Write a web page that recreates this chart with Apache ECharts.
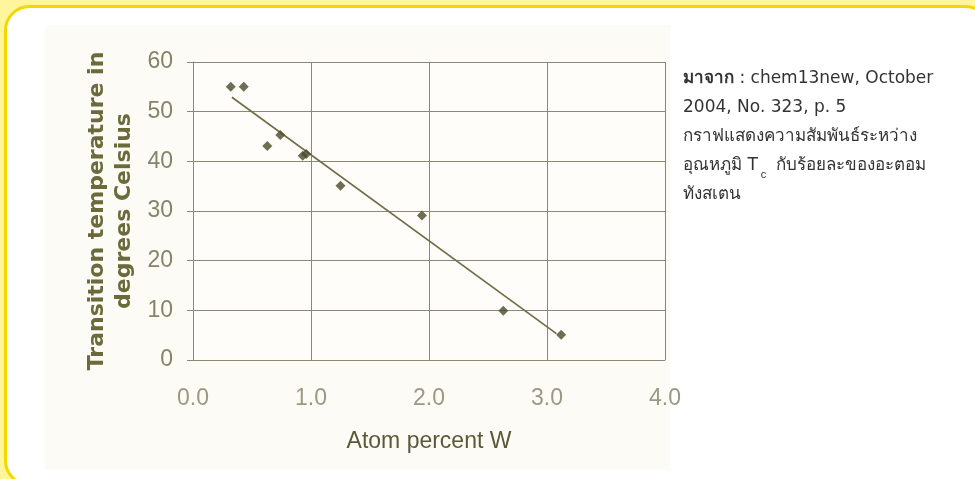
<!DOCTYPE html>
<html>
<head>
<meta charset="utf-8">
<script src="https://cdn.jsdelivr.net/npm/echarts@6/dist/echarts.min.js"></script>
<style>
html,body{margin:0;padding:0;background:#fff59a;}
#c{width:975px;height:479px;}
</style>
</head>
<body>
<div id="c"></div>
<script>
// Data
const xTickLabels = ['0.0', '1.0', '2.0', '3.0', '4.0'];
const yTickLabels = ['0', '10', '20', '30', '40', '50', '60'];
const atomPercentW = [0.32, 0.43, 0.63, 0.74, 0.93, 0.96, 1.25, 1.94, 2.63, 3.12];
const transitionTemp = [55.0, 55.0, 43.1, 45.3, 41.1, 41.5, 35.1, 29.1, 9.9, 5.1];
const trendX = [0.33, 3.08];
const trendY = [52.9, 5.3];

const points = atomPercentW.map((x, i) => [x, transitionTemp[i]]);
const trend = trendX.map((x, i) => [x, trendY[i]]);

const chart = echarts.init(document.getElementById('c'));
chart.setOption({
  backgroundColor: '#fff59a',
  animation: false,
  graphic: [
    { type: 'rect', z: -10, silent: true,
      shape: { x: 5.5, y: 6.5, width: 984, height: 478, r: 24 },
      style: { fill: '#ffffff', stroke: '#f2d800', lineWidth: 3 } },
    { type: 'rect', z: -9, silent: true,
      shape: { x: 45, y: 25, width: 625, height: 445 },
      style: { fill: '#fcfbf6' } },
    { type: 'text', left: 683, top: 64, silent: true,
      style: {
        text: '{b|มาจาก} : chem13new, October\n2004, No. 323, p. 5\nกราฟแสดงความสัมพันธ์ระหว่าง\nอุณหภูมิ T{sub|c} กับร้อยละของอะตอม\nทังสเตน',
        fontFamily: '"DejaVu Sans", "Noto Sans", sans-serif',
        fontSize: 17,
        lineHeight: 29,
        fill: '#333333',
        rich: {
          b: { fontWeight: 'bold', fontSize: 17, fill: '#333333', lineHeight: 29 },
          sub: { fontSize: 11, fill: '#333333', verticalAlign: 'bottom', lineHeight: 29, padding: [0, 4, 0, 3] }
        }
      } }
  ],
  grid: {
    left: 193, right: 310, top: 62, bottom: 119,
    show: true, backgroundColor: '#fefdfa', borderWidth: 0
  },
  xAxis: {
    type: 'value', min: 0, max: 4, interval: 1,
    name: 'Atom percent W', nameLocation: 'middle', nameGap: 70,
    nameTextStyle: { fontFamily: '"Liberation Sans", Arial, sans-serif', fontSize: 23, color: '#5a5a38' },
    axisLine: { show: true, lineStyle: { color: '#8a8972', width: 1 } },
    axisTick: { show: false },
    axisLabel: {
      margin: 27, fontFamily: '"Liberation Sans", Arial, sans-serif', fontSize: 23, color: '#9a9984',
      formatter: (v) => xTickLabels[Math.round(v)]
    },
    splitLine: { show: true, lineStyle: { color: '#8a8972', width: 1 } }
  },
  yAxis: {
    type: 'value', min: 0, max: 60, interval: 10,
    name: 'Transition temperature in\ndegrees Celsius', nameLocation: 'middle', nameGap: 55, nameRotate: 90,
    nameTextStyle: { fontFamily: '"DejaVu Sans", sans-serif', fontWeight: 'bold', fontSize: 22, lineHeight: 27, color: '#6a6a3a' },
    axisLine: { show: true, lineStyle: { color: '#8a8972', width: 1 } },
    axisTick: { show: true, length: 6, inside: false, lineStyle: { color: '#8a8972' } },
    axisLabel: {
      margin: 20, fontFamily: '"Liberation Sans", Arial, sans-serif', fontSize: 23, color: '#858469',
      formatter: (v) => yTickLabels[Math.round(v / 10)]
    },
    splitLine: { show: true, lineStyle: { color: '#8a8972', width: 1 } }
  },
  series: [
    { type: 'line', data: trend, symbol: 'none', silent: true,
      lineStyle: { color: '#6e6d46', width: 1.6 }, z: 2 },
    { type: 'scatter', data: points, symbol: 'diamond', symbolSize: [10, 10],
      itemStyle: { color: '#4a4a28' }, z: 3 }
  ]
});
</script>
</body>
</html>
